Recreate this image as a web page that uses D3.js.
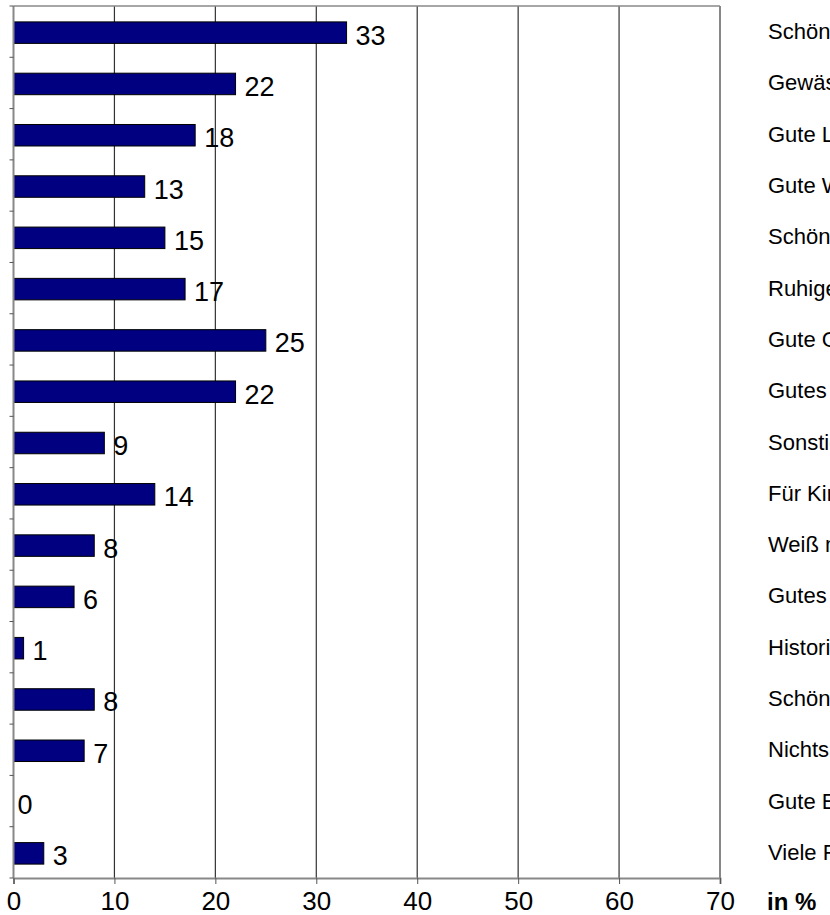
<!DOCTYPE html>
<html>
<head>
<meta charset="utf-8">
<script src="https://cdn.jsdelivr.net/npm/d3@7"></script>
<style>
  html, body { margin: 0; padding: 0; background: #fff; overflow: hidden; }
  svg { display: block; font-family: "Liberation Sans", Arial, Helvetica, sans-serif; }
</style>
</head>
<body>
<svg id="chart" width="830" height="915"></svg>
<script>
// Gründe für die Wahl des Urlaubsortes (Anteil der Nennungen in %)
const categories = [
  "Schöne Landschaft",
  "Gewässer / Seen",
  "Gute Luft",
  "Gute Wandermöglichkeiten",
  "Schöne Ortsbilder",
  "Ruhige Lage",
  "Gute Gastronomie",
  "Gutes Klima",
  "Sonstiges",
  "Für Kinder geeignet",
  "Weiß nicht",
  "Gutes Preis-Leistungs-Verhältnis",
  "Historische Sehenswürdigkeiten",
  "Schöne Unterkünfte",
  "Nichts Besonderes",
  "Gute Erreichbarkeit",
  "Viele Freizeitangebote"
];
const values = [33, 22, 18, 13, 15, 17, 25, 22, 9, 14, 8, 6, 1, 8, 7, 0, 3];
const xTicks = [0, 10, 20, 30, 40, 50, 60, 70];
const unitLabel = "in %";

const svg = d3.select("#chart");
const plot = { left: 13.5, right: 720, top: 6, bottom: 878 };

const x = d3.scaleLinear().domain([0, 70]).range([plot.left, plot.right]);
const y = d3.scaleBand().domain(categories).range([plot.top, plot.bottom])
  .paddingInner(0).paddingOuter(0);
const barH = 21.5;

// vertical gridlines
svg.append("g").selectAll("line").data(xTicks.filter(t => t > 0 && t < 70)).join("line")
  .attr("x1", d => x(d)).attr("x2", d => x(d))
  .attr("y1", plot.top).attr("y2", plot.bottom)
  .attr("stroke", "#333").attr("stroke-width", 1.2);

// frame: top and right edges
svg.append("line").attr("x1", plot.left).attr("x2", plot.right)
  .attr("y1", plot.top).attr("y2", plot.top)
  .attr("stroke", "#888").attr("stroke-width", 1.5);
svg.append("line").attr("x1", plot.right).attr("x2", plot.right)
  .attr("y1", plot.top).attr("y2", plot.bottom)
  .attr("stroke", "#888").attr("stroke-width", 2);

const rows = values.map((v, i) => ({ v, c: categories[i] }));

// bars
svg.append("g").selectAll("rect").data(rows).join("rect")
  .filter(d => d.v > 0)
  .attr("x", x(0))
  .attr("y", d => y(d.c) + y.bandwidth() / 2 - barH / 2 + 1)
  .attr("width", d => x(d.v) - x(0))
  .attr("height", barH)
  .attr("fill", "#000080")
  .attr("stroke", "#000").attr("stroke-width", 1);

// value labels
svg.append("g").selectAll("text").data(rows).join("text")
  .attr("x", d => x(d.v) + (d.v === 0 ? 4 : 9))
  .attr("y", d => y(d.c) + y.bandwidth() / 2 + 13)
  .attr("font-size", 27)
  .attr("fill", "#000")
  .text(d => d.v);

// left axis with ticks at band boundaries
const yAxisG = svg.append("g");
yAxisG.append("line").attr("x1", plot.left).attr("x2", plot.left)
  .attr("y1", plot.top).attr("y2", plot.bottom)
  .attr("stroke", "#888").attr("stroke-width", 2);
yAxisG.selectAll("line.tick").data(d3.range(categories.length + 1)).join("line")
  .attr("class", "tick")
  .attr("x1", plot.left - 4).attr("x2", plot.left)
  .attr("y1", i => plot.top + i * y.step()).attr("y2", i => plot.top + i * y.step())
  .attr("stroke", "#555").attr("stroke-width", 1);

// bottom axis
const xAxis = d3.axisBottom(x).tickValues(xTicks).tickSize(6).tickPadding(8).tickFormat(d3.format("d"));
const xg = svg.append("g").attr("transform", `translate(0,${plot.bottom})`).call(xAxis);
xg.select(".domain").attr("stroke", "#888").attr("stroke-width", 2);
xg.selectAll(".tick line").attr("stroke", "#555");
xg.selectAll(".tick text")
  .attr("font-size", 26).attr("font-family", "Liberation Sans, Arial, sans-serif")
  .attr("fill", "#000").attr("dy", "0.71em");

// category labels on the right
svg.append("g").selectAll("text").data(categories).join("text")
  .attr("x", 768)
  .attr("y", d => y(d) + y.bandwidth() / 2 + 7.5)
  .attr("font-size", 22)
  .attr("fill", "#000")
  .text(d => d);

// unit label
svg.append("text")
  .attr("x", 767).attr("y", 910)
  .attr("font-size", 24).attr("font-weight", "bold")
  .attr("fill", "#000")
  .text(unitLabel);
</script>
</body>
</html>
